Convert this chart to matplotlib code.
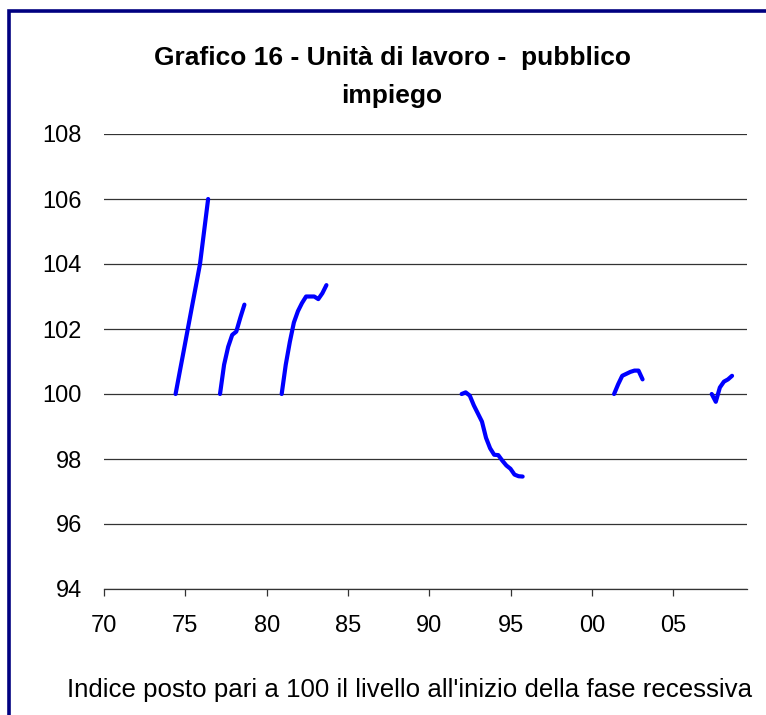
import matplotlib.pyplot as plt
from matplotlib.patches import Rectangle

plt.rcParams['font.family'] = ['Liberation Sans', 'DejaVu Sans']

# recession episodes: start year (decimal, quarterly steps) and index values
starts = [1974.4, 1977.13, 1980.92, 1991.98, 2001.35, 2007.35]
series = [
    [100.0, 100.67, 101.33, 102.0, 102.67, 103.33, 104.0, 105.0, 106.0],
    [100.0, 100.9, 101.45, 101.82, 101.92, 102.35, 102.75],
    [100.0, 100.9, 101.6, 102.2, 102.55, 102.8, 103.0, 103.0, 103.0, 102.92, 103.1, 103.35],
    [100.0, 100.05, 99.95, 99.65, 99.4, 99.15, 98.65, 98.33, 98.13, 98.12,
     97.95, 97.8, 97.7, 97.52, 97.47, 97.46],
    [100.0, 100.3, 100.56, 100.62, 100.68, 100.72, 100.72, 100.45],
    [100.0, 99.76, 100.2, 100.38, 100.45, 100.56],
]
xticks = [1970, 1975, 1980, 1985, 1990, 1995, 2000, 2005]
xlabels = ["70", "75", "80", "85", "90", "95", "00", "05"]
yticks = [94, 96, 98, 100, 102, 104, 106, 108]

fig = plt.figure(figsize=(7.66, 7.15), dpi=100)
W, H = 766, 715
ax = fig.add_axes([104 / W, 1 - 589 / H, (746.7 - 104) / W, (589 - 134) / H])

for s, vals in zip(starts, series):
    xs = [s + 0.25 * i for i in range(len(vals))]
    ax.plot(xs, vals, color='#0000FF', lw=3.0, solid_capstyle='round', solid_joinstyle='round', zorder=3)

ax.set_xlim(1970, 2009.5)
ax.set_ylim(94, 108)
ax.set_yticks(yticks)
ax.set_yticklabels([str(v) for v in yticks])
ax.set_xticks(xticks)
ax.set_xticklabels(xlabels)
ax.grid(axis='y', color='#333333', lw=0.9)
ax.set_axisbelow(True)
for sp in ['left', 'right', 'top']:
    ax.spines[sp].set_visible(False)
ax.spines['bottom'].set_color('#333333')
ax.spines['bottom'].set_linewidth(0.9)
ax.tick_params(axis='y', length=0, pad=16, labelsize=17)
ax.tick_params(axis='x', length=5, width=0.9, color='#333333', pad=14, labelsize=17)

fig.text(392 / W, 1 - 58 / H, "Grafico 16 - Unità di lavoro -  pubblico", ha='center', va='center',
         fontsize=19, fontweight='bold')
fig.text(392 / W, 1 - 96 / H, "impiego", ha='center', va='center', fontsize=19, fontweight='bold')
fig.text(410 / W, 1 - 690 / H, "Indice posto pari a 100 il livello all'inizio della fase recessiva",
         ha='center', va='center', fontsize=18.6)

# dark blue frame around the chart area
fig.patches.append(Rectangle((8.5 / W, -0.1), 1.2, 1 - 11 / H + 0.1, transform=fig.transFigure,
                             fill=False, edgecolor='#000080', lw=2.6))

fig.savefig("out.png", dpi=100)
